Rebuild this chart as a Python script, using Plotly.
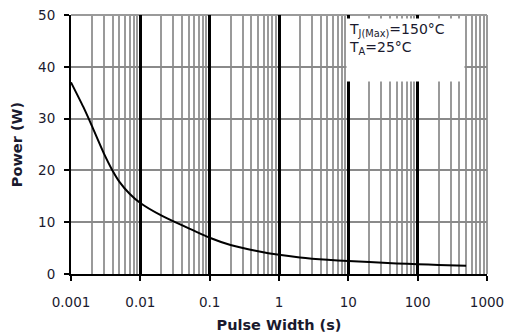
import plotly.graph_objects as go

pulse_width = [0.001, 0.0015, 0.002, 0.003, 0.004, 0.005, 0.007, 0.01, 0.02, 0.05, 0.1, 0.2, 0.5, 1, 2, 5, 10, 20, 50, 100, 200, 500]
power = [37, 32.3, 28.6, 23.2, 19.9, 17.8, 15.5, 13.7, 11.3, 8.8, 7.0, 5.6, 4.4, 3.7, 3.2, 2.75, 2.5, 2.3, 2.05, 1.9, 1.75, 1.6]

x_tickvals = [0.001, 0.01, 0.1, 1, 10, 100, 1000]
x_ticktext = ["0.001", "0.01", "0.1", "1", "10", "100", "1000"]
major_grid_vals = [0.01, 0.1, 1, 10, 100]
y_tickvals = [0, 10, 20, 30, 40, 50]

FONT = "DejaVu Sans"
TXT = "#1a1a2e"

fig = go.Figure()
fig.add_trace(go.Scatter(x=pulse_width, y=power, mode="lines",
                         line=dict(color="black", width=2, shape="spline", smoothing=0.5),
                         showlegend=False, hoverinfo="skip"))
fig.add_trace(go.Scatter(x=[0.001], y=[0], xaxis="x2", mode="markers",
                         marker=dict(opacity=0), showlegend=False, hoverinfo="skip"))

fig.update_layout(
    width=507, height=336,
    margin=dict(l=71, r=20, t=15, b=62),
    paper_bgcolor="white", plot_bgcolor="white",
    font=dict(family=FONT, color=TXT, size=13.5),
    xaxis=dict(
        type="log", range=[-3, 3], automargin=False,
        tickvals=x_tickvals, ticktext=x_ticktext,
        ticks="outside", ticklen=5, tickwidth=1.5, tickcolor="black",
        ticklabelstandoff=10,
        showline=True, linecolor="black", linewidth=2,
        showgrid=True, gridcolor="#9a9a9a", gridwidth=1.5,
        minor=dict(dtick="D1", showgrid=True, gridcolor="#9a9a9a", gridwidth=1.5, ticks=""),
        title=dict(text="<b>Pulse Width (s)</b>", font=dict(size=14.5, family=FONT), standoff=11),
        zeroline=False,
    ),
    xaxis2=dict(
        type="log", range=[-3, 3], overlaying="x", automargin=False,
        tickvals=major_grid_vals, showticklabels=False,
        showgrid=True, gridcolor="black", gridwidth=2.5,
        showline=False, zeroline=False, ticks="",
    ),
    yaxis=dict(
        range=[0, 50], tickvals=y_tickvals, automargin=False,
        ticks="outside", ticklen=5, tickwidth=1.5, tickcolor="black",
        ticklabelstandoff=6,
        showline=True, linecolor="black", linewidth=2,
        showgrid=True, gridcolor="#8a8a8a", gridwidth=2,
        title=dict(text="<b>Power (W)</b>", font=dict(size=14.5, family=FONT), standoff=12),
        zeroline=False,
    ),
    shapes=[
        dict(type="line", xref="paper", yref="paper", x0=0, x1=1, y0=1, y1=1,
             line=dict(color="#9a9a9a", width=2), layer="below"),
        dict(type="line", xref="paper", yref="paper", x0=1, x1=1, y0=0, y1=1,
             line=dict(color="#9a9a9a", width=2), layer="below"),
    ],
    annotations=[dict(
        xref="paper", yref="paper", x=0.662, y=0.99, xanchor="left", yanchor="top",
        text="T<sub>J(Max)</sub>=150°C<br>T<sub>A</sub>=25°C",
        showarrow=False, align="left", valign="top",
        width=113, height=58, bgcolor="white", borderpad=2,
        font=dict(size=14, family=FONT, color=TXT),
    )],
)

fig.write_html("out.html")
